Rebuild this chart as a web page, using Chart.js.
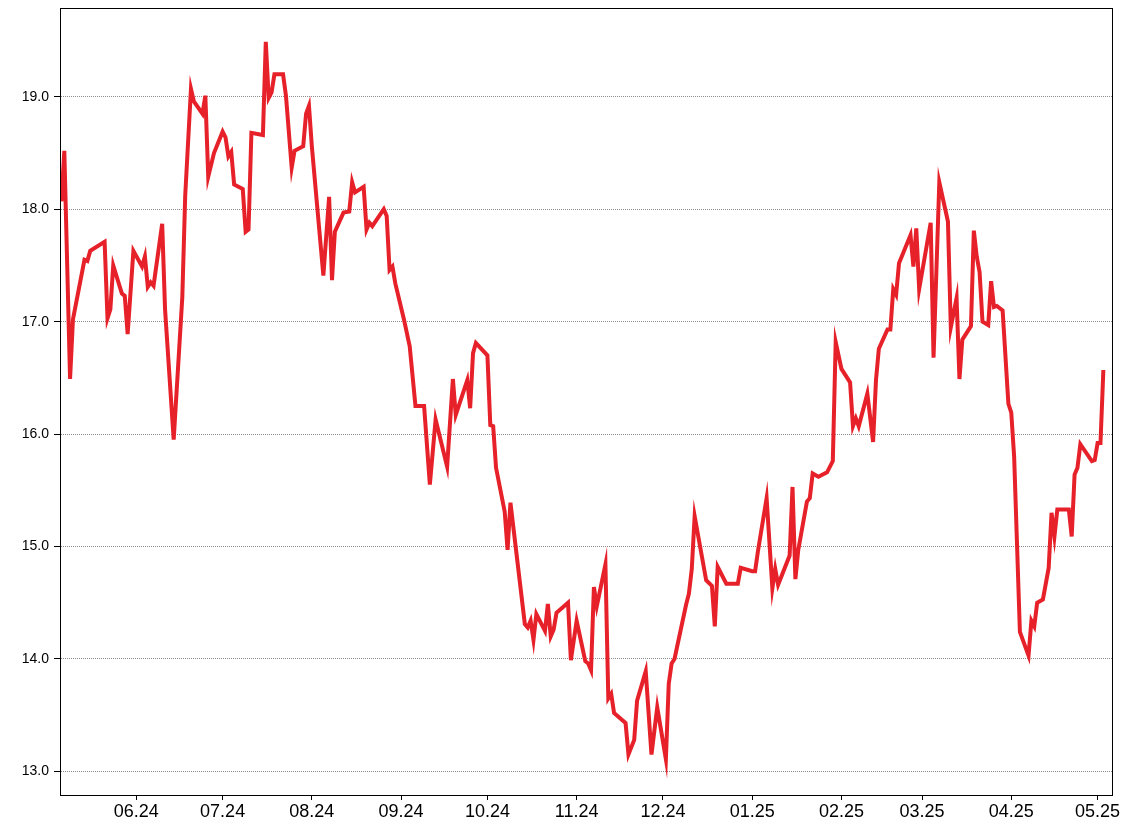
<!DOCTYPE html>
<html>
<head>
<meta charset="utf-8">
<script src="https://cdn.jsdelivr.net/npm/chart.js@4"></script>
<style>
    html, body { margin: 0; padding: 0; background: #fff; }
    #wrap { width: 1128px; height: 836px; position: relative; }
</style>
</head>
<body>
<div id="wrap"><canvas id="priceChart"></canvas></div>
<script>
var dates = [
    '2024-05-06', '2024-05-07', '2024-05-09', '2024-05-10', '2024-05-14', '2024-05-15', '2024-05-16', '2024-05-21',
    '2024-05-22', '2024-05-23', '2024-05-24', '2024-05-27', '2024-05-28', '2024-05-29', '2024-05-31', '2024-06-03',
    '2024-06-04', '2024-06-05', '2024-06-06', '2024-06-07', '2024-06-10', '2024-06-11', '2024-06-14', '2024-06-17',
    '2024-06-18', '2024-06-20', '2024-06-21', '2024-06-24', '2024-06-25', '2024-06-26', '2024-06-28', '2024-07-01',
    '2024-07-02', '2024-07-03', '2024-07-04', '2024-07-05', '2024-07-08', '2024-07-09', '2024-07-10', '2024-07-11',
    '2024-07-15', '2024-07-16', '2024-07-17', '2024-07-18', '2024-07-19', '2024-07-22', '2024-07-23', '2024-07-25',
    '2024-07-26', '2024-07-29', '2024-07-30', '2024-07-31', '2024-08-01', '2024-08-05', '2024-08-07', '2024-08-08',
    '2024-08-09', '2024-08-12', '2024-08-14', '2024-08-15', '2024-08-16', '2024-08-19', '2024-08-20', '2024-08-21',
    '2024-08-22', '2024-08-26', '2024-08-27', '2024-08-28', '2024-08-29', '2024-08-30', '2024-09-02', '2024-09-04',
    '2024-09-06', '2024-09-09', '2024-09-11', '2024-09-13', '2024-09-17', '2024-09-19', '2024-09-20', '2024-09-24',
    '2024-09-25', '2024-09-26', '2024-09-27', '2024-10-01', '2024-10-02', '2024-10-03', '2024-10-04', '2024-10-07',
    '2024-10-08', '2024-10-09', '2024-10-14', '2024-10-15', '2024-10-16', '2024-10-17', '2024-10-18', '2024-10-21',
    '2024-10-22', '2024-10-23', '2024-10-24', '2024-10-25', '2024-10-29', '2024-10-30', '2024-11-01', '2024-11-04',
    '2024-11-05', '2024-11-06', '2024-11-07', '2024-11-08', '2024-11-11', '2024-11-12', '2024-11-13', '2024-11-14',
    '2024-11-18', '2024-11-19', '2024-11-21', '2024-11-22', '2024-11-25', '2024-11-27', '2024-11-29', '2024-12-02',
    '2024-12-03', '2024-12-04', '2024-12-05', '2024-12-09', '2024-12-10', '2024-12-11', '2024-12-12', '2024-12-16',
    '2024-12-18', '2024-12-19', '2024-12-20', '2024-12-23', '2024-12-27', '2024-12-28', '2025-01-01', '2025-01-02',
    '2025-01-03', '2025-01-06', '2025-01-08', '2025-01-09', '2025-01-10', '2025-01-14', '2025-01-15', '2025-01-16',
    '2025-01-17', '2025-01-20', '2025-01-21', '2025-01-22', '2025-01-24', '2025-01-27', '2025-01-29', '2025-01-30',
    '2025-02-01', '2025-02-03', '2025-02-04', '2025-02-05', '2025-02-06', '2025-02-07', '2025-02-10', '2025-02-12',
    '2025-02-13', '2025-02-14', '2025-02-17', '2025-02-18', '2025-02-19', '2025-02-20', '2025-02-21', '2025-02-25',
    '2025-02-26', '2025-02-27', '2025-02-28', '2025-03-04', '2025-03-05', '2025-03-07', '2025-03-10', '2025-03-11',
    '2025-03-13', '2025-03-14', '2025-03-15', '2025-03-18', '2025-03-19', '2025-03-20', '2025-03-21', '2025-03-22',
    '2025-03-24', '2025-03-25', '2025-03-26', '2025-03-27', '2025-03-29', '2025-03-31', '2025-04-01', '2025-04-02',
    '2025-04-04', '2025-04-07', '2025-04-08', '2025-04-09', '2025-04-10', '2025-04-12', '2025-04-14', '2025-04-15',
    '2025-04-16', '2025-04-17', '2025-04-21', '2025-04-22', '2025-04-23', '2025-04-24', '2025-04-25', '2025-04-29',
    '2025-04-30', '2025-05-01', '2025-05-02', '2025-05-03'
];

var prices = [
    18.07, 18.52, 16.49, 17.02, 17.55, 17.54, 17.63, 17.71,
    17.03, 17.11, 17.50, 17.25, 17.23, 16.89, 17.63, 17.49,
    17.58, 17.31, 17.35, 17.32, 17.87, 17.11, 15.95, 17.22,
    18.12, 19.07, 18.96, 18.85, 19.01, 18.29, 18.50, 18.69,
    18.64, 18.47, 18.51, 18.22, 18.18, 17.80, 17.82, 18.68,
    18.66, 19.49, 18.99, 19.04, 19.20, 19.20, 19.01, 18.37,
    18.52, 18.56, 18.85, 18.92, 18.56, 17.41, 18.11, 17.37,
    17.80, 17.97, 17.98, 18.24, 18.15, 18.20, 17.82, 17.88,
    17.85, 18.00, 17.94, 17.46, 17.49, 17.34, 17.02, 16.78,
    16.25, 16.25, 15.55, 16.13, 15.71, 16.49, 16.17, 16.48,
    16.23, 16.72, 16.81, 16.70, 16.08, 16.07, 15.70, 15.31,
    14.97, 15.39, 14.31, 14.28, 14.34, 14.17, 14.40, 14.25,
    14.49, 14.20, 14.26, 14.41, 14.50, 13.99, 14.34, 13.98,
    13.96, 13.90, 14.64, 14.47, 14.84, 13.65, 13.69, 13.52,
    13.43, 13.15, 13.28, 13.63, 13.89, 13.15, 13.57, 13.11,
    13.78, 13.96, 14.00, 14.48, 14.58, 14.80, 15.27, 14.70,
    14.65, 14.29, 14.82, 14.67, 14.67, 14.81, 14.78, 14.78,
    14.96, 15.43, 14.63, 14.80, 14.66, 14.92, 15.53, 14.71,
    14.97, 15.40, 15.43, 15.65, 15.62, 15.66, 15.76, 16.82,
    16.58, 16.50, 16.46, 16.07, 16.14, 16.07, 16.36, 15.93,
    16.48, 16.76, 16.93, 16.93, 17.29, 17.24, 17.52, 17.77,
    17.49, 17.83, 17.29, 17.88, 16.68, 18.24, 17.89, 16.95,
    17.21, 16.49, 16.84, 16.96, 17.81, 17.58, 17.44, 17.00,
    16.97, 17.36, 17.13, 17.14, 17.10, 16.27, 16.19, 15.80,
    14.24, 14.03, 14.34, 14.29, 14.50, 14.53, 14.81, 15.30,
    15.09, 15.33, 15.33, 15.09, 15.64, 15.70, 15.91, 15.76,
    15.77, 15.92, 15.92, 16.57
];

var monthTicks = ['2024-06-01', '2024-07-01', '2024-08-01', '2024-09-01', '2024-10-01', '2024-11-01',
                  '2024-12-01', '2025-01-01', '2025-02-01', '2025-03-01', '2025-04-01', '2025-05-01'];
var monthLabels = ['06.24', '07.24', '08.24', '09.24', '10.24', '11.24',
                   '12.24', '01.25', '02.25', '03.25', '04.25', '05.25'];
var yTicks = [13, 14, 15, 16, 17, 18, 19];

function dayNum(s) {
    var p = s.split('-');
    return Date.UTC(+p[0], +p[1] - 1, +p[2]) / 86400000;
}

document.addEventListener("DOMContentLoaded", function() {
    var points = dates.map(function(d, i) {
        return { x: dayNum(d), y: prices[i] };
    });
    var tickDays = monthTicks.map(dayNum);

    // box around the plot area (top and right edges)
    var frame = {
        id: 'frame',
        afterDraw: function(chart) {
            var a = chart.chartArea, c = chart.ctx;
            c.save();
            c.strokeStyle = '#000';
            c.lineWidth = 1;
            c.strokeRect(a.left + 0.5, a.top + 0.5, a.right - a.left, a.bottom - a.top);
            c.restore();
        }
    };

    var ctx = document.getElementById('priceChart').getContext('2d');
    new Chart(ctx, {
        type: 'line',
        data: {
            datasets: [{
                data: points,
                borderColor: '#e62129',
                borderWidth: 4,
                pointRadius: 0,
                tension: 0,
                fill: false
            }]
        },
        options: {
            responsive: true,
            maintainAspectRatio: false,
            animation: false,
            devicePixelRatio: 1,
            layout: { padding: { top: 8, right: 16, left: 0, bottom: 0 } },
            plugins: { legend: { display: false }, tooltip: { enabled: false } },
            scales: {
                x: {
                    type: 'linear',
                    min: dayNum('2024-05-06') - 0.5,
                    max: dayNum('2025-05-06'),
                    afterBuildTicks: function(scale) {
                        scale.ticks = tickDays.map(function(v) { return { value: v }; });
                    },
                    afterFit: function(scale) {
                        scale.height = 41;
                        scale.paddingLeft = 0;
                        scale.paddingRight = 0;
                    },
                    grid: { drawOnChartArea: false, tickLength: 5, tickColor: '#000' },
                    border: { color: '#000', width: 1 },
                    ticks: {
                        autoSkip: false,
                        maxRotation: 0,
                        padding: 1,
                        color: '#000',
                        font: { family: 'Liberation Sans, Arial, sans-serif', size: 18 },
                        callback: function(value) {
                            var i = tickDays.indexOf(value);
                            return i >= 0 ? monthLabels[i] : '';
                        }
                    }
                },
                y: {
                    min: 12.79,
                    max: 19.79,
                    afterBuildTicks: function(scale) {
                        scale.ticks = yTicks.map(function(v) { return { value: v }; });
                    },
                    afterFit: function(scale) {
                        scale.width = 60;
                        scale.paddingTop = 0;
                        scale.paddingBottom = 0;
                    },
                    grid: { color: '#8c8c8c', lineWidth: 1, tickLength: 6, tickColor: '#000' },
                    border: { color: '#000', width: 1, dash: [1, 1] },
                    ticks: {
                        padding: 5,
                        color: '#000',
                        font: { family: 'Liberation Sans, Arial, sans-serif', size: 14 },
                        callback: function(value) { return value.toFixed(1); }
                    }
                }
            }
        },
        plugins: [frame]
    });
});
</script>
</body>
</html>
